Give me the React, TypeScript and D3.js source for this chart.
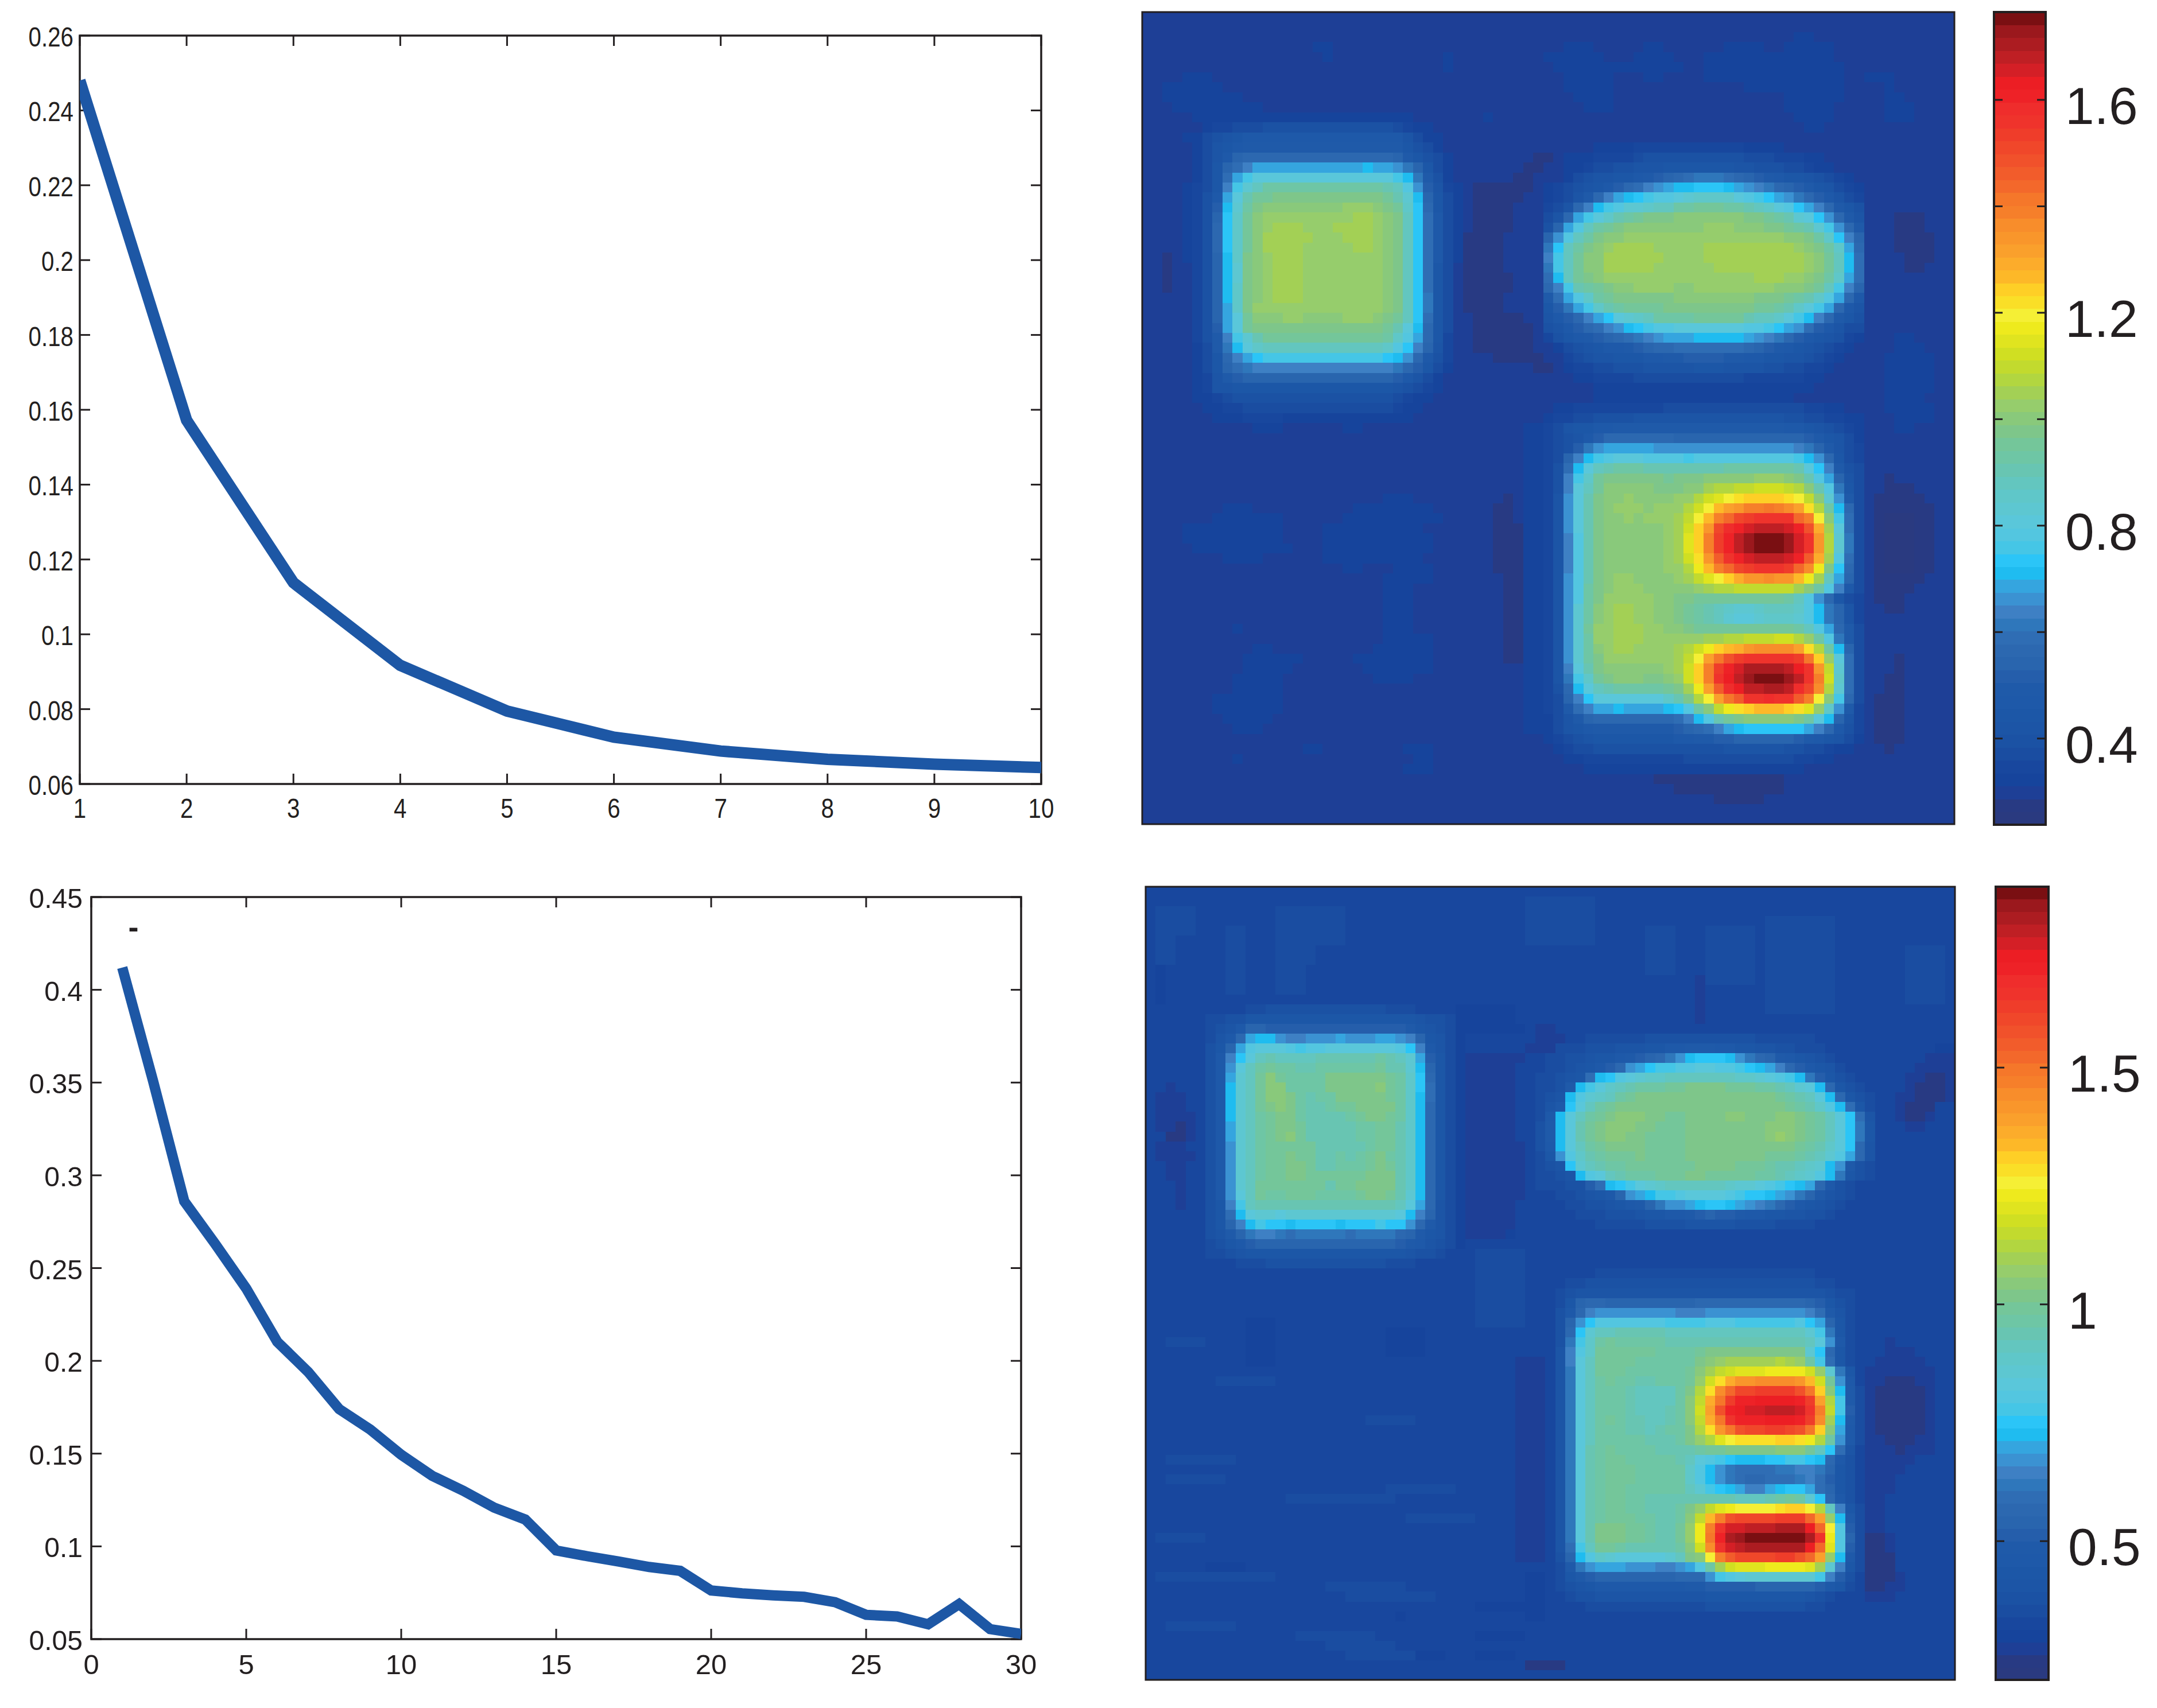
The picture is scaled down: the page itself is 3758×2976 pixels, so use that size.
import React from "react";
import { scaleLinear, scaleBand, scaleOrdinal, line, range } from "d3";

type Block = { col: number; row: number; rows: string[] };

// line charts
const topLineX = [1, 2, 3, 4, 5, 6, 7, 8, 9, 10];
const topLineY = [0.248, 0.1572, 0.1138, 0.0917, 0.0795, 0.0725, 0.0688, 0.0666, 0.0653, 0.0644];
const topXTicks = [1, 2, 3, 4, 5, 6, 7, 8, 9, 10];
const topYTicks = [0.06, 0.08, 0.1, 0.12, 0.14, 0.16, 0.18, 0.2, 0.22, 0.24, 0.26];

const bottomLineX = range(1, 31);
const bottomLineY = [
  0.412, 0.3505, 0.286, 0.263, 0.239, 0.2103, 0.194, 0.174, 0.163, 0.1494,
  0.138, 0.13, 0.1209, 0.1145, 0.0978, 0.0947, 0.0919, 0.0889, 0.0868, 0.0762,
  0.0747, 0.0736, 0.0728, 0.0699, 0.0631, 0.0622, 0.058, 0.0689, 0.0554, 0.0528,
];
const bottomXTicks = [0, 5, 10, 15, 20, 25, 30];
const bottomYTicks = [0.05, 0.1, 0.15, 0.2, 0.25, 0.3, 0.35, 0.4, 0.45];
const strayMark = { x: 1.36, y: 0.4335 };

// colormap, one letter per level, low to high
const levelChars = "0123456789abcdefghijklmnopqrstuvwxyzABCDEFGHIJKLMNOPQRSTUVWXYZ+";
const palette = [
  "#2a3a80", "#283a83", "#1e3f96", "#16449c", "#18479e", "#1a4da1", "#1b52a4", "#1c55a6", "#1c57a7", "#1e59a9",
  "#1f5aa9", "#255eab", "#2965ae", "#2c68b0", "#2f6db4", "#2f77bb", "#3e80c4", "#3b92d2", "#35a5df", "#1fbcf0",
  "#2bc5f7", "#45c6e6", "#53c6e0", "#5ac7da", "#5dc7d1", "#5fc7c9", "#63c6bf", "#68c5b2", "#6ec6a5", "#74c69a",
  "#7ec68a", "#89c97b", "#96cd6c", "#a3d055", "#b2d640", "#c2da2e", "#d0df22", "#e0e41f", "#eeea1d", "#f5ef35",
  "#fadf27", "#fecf26", "#fdb828", "#fcac2b", "#faa02c", "#f9962b", "#f88d2b", "#f67f2a", "#f5772a", "#f3682b",
  "#f25c2b", "#f1512b", "#f0472a", "#ef3d2a", "#ef332c", "#ef2d2c", "#ee2227", "#ec1e24", "#d41f26", "#bf1f24",
  "#ac1c21", "#9b181d", "#7a0f12",
];
const gridSize = 81;

const topBackground = "2";
const bottomBackground = "4";

// top heat map, read cell by cell
const topSquare: Block = { col: 3, row: 10, rows: [
  "22222 2333 333333333333 3332 2222",
  "22234 4555 666666666666 6543 3222",
  "23356 7899 999999999999 9975 3322",
  "22357 89aa aaaaaaaaaaaa aa86 5322",
  "22357 9cdd dddddddddddd dca8 6532",
  "22358 cegi iiiiiiiiiiji ihfc 8532",
  "22358 eiln nnnnnnnnnnnn nljf a632",
  "23458 gloq ssssssssssss rqmh b743",
  "23469 inrt tuuuuuuuuuuu troj c853",
  "2346b josu vvvvvvvvwwwv utpk d853",
  "2346c kptv wwwwwwwwwxxw vuqk e953",
  "2346d kptv wxxxwwwxxxxw vuqk e953",
  "2346d kptv xxxxxwwwxxxw vuqk e953",
  "2346d kptv xxxxwwwwwxxw vuqk e953",
  "2346c jpuv wxxxwwwwwwww vuqk e953",
  "2246c jouv wxxxwwwwwwww vuqk e852",
  "2246c jouv wxxxwwwwwwww vuqk e852",
  "2246c jpuv wxxxwwwwwwww vuqk e852",
  "2246c jpuv wxxxwwwwwwww vuqk f852",
  "2246c ipuw wwwwwwwwwwww vuqk f852",
  "2246c intv vvwwvvvvwwwv utqk e852",
  "2246b intu uuuuuuuuuuuu trnj d852",
  "2246a glor tttttttttttt spmi d842",
  "2235a fjnp qqqqqqqqqqqq pmkg c742",
  "22358 dgik llllllllllll kjhd 9642",
  "22358 cefg gggggggggggg gfdb 8532",
  "22347 abcc cccccccccccc cb97 5322",
  "22347 7888 888888888888 8765 4322",
  "22334 5666 666666666666 6543 3222",
  "22233 4455 555555555555 5433 2222",
  "22223 3344 443333333333 3332 2222",
  "22222 2223 332222223322 2222 2222",
] };

const topEllipse: Block = { col: 40, row: 13, rows: [
  "22222333 3444444444443333 22222222",
  "22333444 4566666666665554 44332222",
  "22334556 6777888888877666 55433222",
  "22356778 89abcdefffedcba9 88765432",
  "3456789b deghijjkkkjihgfd cba87543",
  "3457adgi jklmmnoppppnmlki hfdb9754",
  "457dgjlm oopqqsstttssrqpn mkigda86",
  "57dilnpr stuuuvvvvvvvuuts ronkhda7",
  "6cimqstu vvvvvvvvwwwvvvuu tsrolhda",
  "chmqsuvv wwwwwwwwwwwwwwww vvuspkgc",
  "fkqsuvwx xxxwwwwwxxxxxxxx xwvuspid",
  "glqtvvxx xxxxwwwwxxxxxxxx xxwvtqje",
  "flqtvvxx xxxwwwwwwxxxxxxx xxwvtqje",
  "ejqtuvww wwwwwwwwwwwwwxxx wwvuspie",
  "dglrstuv vwwwwvvwwwwwwwwv vvutqlgc",
  "aeimpstu uuuuuvvvvvvvvuuu tsrpmid9",
  "8bfilprs ttttuuuuuuuuutts rpnlid97",
  "79bdgikn opqsssstttttrqqp nljgda86",
  "679bdegh jklmmnnnnnnnmmlk iheb9755",
  "4689abcd efghiiijjjjjihgf db987643",
  "23567899 abcddeeeeeeedcba 98765432",
  "22456778 8899aabbbbaa9988 77654322",
  "22344556 6677777888777766 55443222",
  "22233444 4555555555554444 44332222",
  "22222333 3333333333333333 33322222",
] };

const topBlock: Block = { col: 38, row: 38, rows: [
  "22222223 33333333 33333333 33322222 22",
  "22233444 44444455 55555555 55554433 22",
  "22344556 66677777 77777777 77665544 33",
  "33457889 9aaaaaaa aaaaaaaa aa998765 43",
  "3345679b dddddddc cccccccc ccccba87 53",
  "33456bfh iiiiihhh hhhhhhhh hhhgfca7 54",
  "3345cgjl mnnnmmmm lmmmmmmm mmmljhd8 54",
  "3346ejnq rsssrrrr rrrrssss sssrnkga 65",
  "3346glpt uuuuuutu uuvvvvvw wwvurmic 75",
  "3346gnqt vvvvvuuu vvxyyzzA AAzyvrmf 85",
  "3347hnru vvwvvvvw wyABDEFF FFEDzvoh a5",
  "3347hnru vwwwvwww yADGIJLL MLKIEysj d5",
  "3347hnru vvwvwwwx zDGLNQRS SSSNLDvl e5",
  "3347hnru vvvvvvwx AFJQTUWX XXWUPHxn e5",
  "3347gmru vvvvvvwx BFLRUXZ+ ++ZWSJyo f5",
  "3347gmru vvvvvvwx BFLRUXZ+ ++ZWSJyo f5",
  "3347gmru vvvvvvwx AEJOSUWX XXWUOHxm e5",
  "3347gmru vvvvvvww yCGLNQRS SSRNKCuk d5",
  "3347hmru vwwvvvvw xzBDFHJJ KJJGCxqi c5",
  "3347hmsu vwwwvvvv vwxyyzzz zzzxvsmg 95",
  "3347hmsu wwwwwvvu uttttttt ttsqmhd8 54",
  "3347hosv wxxwwvvu tsrqpoop qqqpmjfc 74",
  "3347hosv wxxwwvvu tsrqonno pppomjfc 74",
  "3347hotw wxxxwwvv uttttttt tttsqmid a5",
  "3347hosw wxxxwwww wwxxyyzz zAAywsmf a5",
  "3347hosv wxxwwwwx yACFGHJK KKKIEysj c5",
  "3347hosu wwwwwwwx zDIMPRSS SSSRMFwn e5",
  "3347gnru vvvvvvwx AFLRUWYY YYXVSJzo e5",
  "3347flpt uvvvuuvw AFLSVXZ+ ++ZXSLAp e5",
  "3346djnq rssssstu xCIOTVXX YYXTQKyo e5",
  "3345cgkn nnnnnnpr uyDIMOSS TSSOLDvl d5",
  "3345aegi ijiiiijk msvzCEFG GGFEBwph a4",
  "33357acd ddddddde gjmrtuvv vvvusnjc 74",
  "3335789a aaaaaaab cdegijkk kkkkigd9 64",
  "22345678 88888889 9aabbccc cccba987 53",
  "22234556 66666666 66667777 77665543 32",
  "22223344 44444444 55555555 55544332 22",
  "22222233 33333333 33333333 33332222 22",
] };

// bits of the top background, painted only where nothing else is
const topPatches: Block[] = [
  { col: 32, row: 14, rows: [".......11", "......11", ".....11", ".111111", ".11111", ".1111", ".1111", ".1111", "1111", "1111", "1111", "1111", "11111", "11111", "1111", "1111", ".11111", ".111111", ".111111", ".111111", "...11111", ".......11"] },
  { col: 75, row: 20, rows: ["111", "111", "1111", "1111", ".111", ".11"] },
  { col: 2, row: 24, rows: ["1", "1", "1", "1"] },
  { col: 73, row: 46, rows: [".1", ".111", "11111", "111111", "100011", "100011", "100011", "100011", "100011", "100011", "11111", "1111", "111", ".11"] },
  { col: 73, row: 64, rows: ["..1", "..1", ".11", ".11", "111", "111", "111", "111", "111", ".1"] },
  { col: 35, row: 48, rows: [".1", "11", "11", "111", "111", "111", "111", "111", ".11", ".11", ".11", ".11", ".11", ".11", ".11", ".11", ".11"] },
  { col: 51, row: 75, rows: [".111111111", "1111111111111", "..11111111111", "......11111"] },
  { col: 2, row: 6, rows: ["..333", "333333", "33333333", ".333333333", "...333333333"] },
  { col: 40, row: 3, rows: ["..333.....33", "333333...3333", ".3333333333333", "..33333...33", "..33333", "...3333", "....333"] },
  { col: 56, row: 2, rows: [".........33", "..3333..33333", "3333333333333", "33333333333333", "33333333333333", "....3333333333", "........333333", "........33333", ".........3333", "..........33"] },
  { col: 72, row: 6, rows: ["333", "..3", "..33", "..333", "..333"] },
  { col: 4, row: 49, rows: ["....333", "...3333333", "3333333333", "3333333333", ".3333333333", "....3333"] },
  { col: 18, row: 48, rows: ["......333", "...33333333", "..3333333333", "3333333333", "33333333333", "33333333333", "3333333333", "..33...3333", "......33333", "......333", "......333", "......333", "......333", "......333"] },
  { col: 7, row: 63, rows: ["....33", "...333333", "...33333", "..33333", "..33333", "3333333", "3333333", ".33333", "..333"] },
  { col: 21, row: 62, rows: ["...33333", "..333333", "33333333", ".3333333", "..3333"] },
  { col: 74, row: 32, rows: [".33", ".333", "33333", "33333", "33333", "33333", "3333", "33333", ".3333", ".33"] },
  { col: 25, row: 73, rows: [".333", "..33", ".333"] },
  { col: 17, row: 3, rows: ["33", ".3"] },
  { col: 30, row: 4, rows: ["3", "3"] },
  { col: 34, row: 10, rows: ["3"] },
  { col: 9, row: 61, rows: ["3"] },
  { col: 16, row: 73, rows: ["33"] },
  { col: 9, row: 74, rows: ["3"] },
];

// bottom heat map
const bottomSquare: Block = { col: 6, row: 12, rows: [
  "4444 55666 66666 66665 55444 44",
  "5566 88888 88888 88888 88766 54",
  "5679 ccbbb bbbbb bbbbb ba876 54",
  "579d ijjhg ghhhi hhhii hgc87 54",
  "68ci mnnnm lmmnn nnnnn mkg97 54",
  "69gk nqrqq qqrrr rrrsr qoib8 54",
  "69hn qstss rrsss ssstr rojc8 54",
  "69io qtvts sssuu uuuut spkd8 54",
  "69jo qtvvs sssuu uuuvt spke8 54",
  "69jo qtvvu srssu uuuut spje8 54",
  "69jo qtuvu srrst tuuuu spjd8 54",
  "69jo qstuu srrrr stuut spjd8 54",
  "69io qstuu trrrr rsstt rpjd8 54",
  "69io qstuv trrrr rsstt rpjd8 54",
  "69ho qsttt ttrrr rrstt rpjd8 54",
  "69ho qsttu ttrrs rstus rpjd8 54",
  "69ho qsttu utrrs sstut rpjd8 54",
  "69ho qsttu utttt ttuuu rpjd8 54",
  "69ho qtttt tttrt tuuuu rpjd8 54",
  "69hn qtsst ttsss stuut rojd8 54",
  "68gl qrrrr rrrrr rrrrr qnid7 53",
  "68ej noono ooooo ooooo njgc7 53",
  "68cg jlkkj kkkkj kkklk khda7 53",
  "67ac fggfe fffff effff dca87 53",
  "5689 bcccc ccccc ccccc ba976 53",
  "5567 88888 88888 88888 87665 44",
  "4445 55666 66666 66665 55444 44",
] };

const bottomEllipse: Block = { col: 38, row: 15, rows: [
  "444444 555555 666666 66666 555555 4444444",
  "444555 666777 8899aa a9988 776655 5444444",
  "445566 7889ab cdfhjk kkjhf dca987 6544444",
  "445567 89bdhi kllmmn nmmlk jigdb9 8754444",
  "455678 ejkmno ppqqqq qqqpp onmljf b865444",
  "4556aj lnpqrs ssttuu uuttt ssrqon jd86544",
  "4567jm opqstu uuuuuu uuuuu uutsrq njd8654",
  "4579kn qstuuu uuuuuu uuuuu uuutsr pmje854",
  "459jnq stuvvv uuttuu uuvvu uuvvut sqnke74",
  "46ajnr tuvvvu utttuu uuuuu uvvvut sqnkf84",
  "46ajnr tuvvuu ttttuu uuuuu uvwvut sqnkf84",
  "469jnq stuuuu ttttuu uuuuu uuuuts rpnkd74",
  "458hmp rstttu ttttuu uuuuu utttsr qomid74",
  "4567ko qrsstt tttttu uuutt tsrrqp ojh9654",
  "45567j mnqrss stttuu ttttts srqpom jf86544",
  "455566 bejkln opqqqq qqpoo nmlkji d965444",
  "444556 789chi jllmnn nnmlk kjihfc a765444",
  "444455 66789a cfhhij kkjih gfdb98 7654444",
  "444445 556667 8899ab cbba9 988776 6544444",
  "444444 455555 666677 77766 665555 4444444",
] };

const bottomBlock: Block = { col: 38, row: 39, rows: [
  "44444445 55555555 55555555 55555444 44",
  "44445566 66666666 66666666 66666554 44",
  "44456777 77777777 77777777 77777765 54",
  "44458cdd cccccccc cddddddd ddddcb86 54",
  "44469dgh hhhhhhhg gghhhhhh hhhhgea7 54",
  "4446chkm mmmmmmll llmmmlll lllmkic8 54",
  "4446dkoq qrrrrrqq qqqqqqqq qqqqolf8 54",
  "4446flps tsssssrr rrrrrrrr rrrrqnh9 54",
  "4447gmpt tttttsss stuuuuuu uuuuokd8 54",
  "4447gnqt tttsssss suvwxxxx xyxwsle8 54",
  "4447fnqt ttssssss tvxzABBB CCCCAwof 84",
  "4447fnqs tssrrsss twAEHJJK KKKJGAth 94",
  "4447fnqs ssrqqqqs uyEKNQQR RRRPMFvj a5",
  "4447fnqs ssrqqqqs vzHMRUUV VVVURIyl a5",
  "4447fnqs ssrqqqrs vAIPUVWW XXXWSLzl b5",
  "4447fnqs tsrrqqrs vzHMSUUU VVVURKxj a5",
  "4447fnqs ssrrqrss uyEJMPQQ RRQPMFvi 95",
  "4447fnqs ssssrrrs uwyBDEEE EFFECysh 95",
  "4447fnrs tssssrrr rsttuuuu uvvvtqke 74",
  "4447fnrs ttsssssr qnmlkjjj kkllkjd9 64",
  "4447fnrs tttsssss pmjhfeee effggfc8 64",
  "4447fnrs tttsssss pmjhfedd eeefgeb8 64",
  "4447fnrs ttssssss qolkjigg ijkkiec8 64",
  "4447fnrs ttssrrrr rrrrrqqq rstsokd9 64",
  "4447fnrs ttssrrrs uwzBCDDD DEFFDyqg 85",
  "4447fnrs tttssrrs vzGLPQQQ QRRRNIwj a5",
  "4447fnru uuttsrrt wCLSWWXX XYYYVNDm b5",
  "4447fnru uuttsrrt wCMUYZ++ ++++YSCm c5",
  "4447elqt tsrrrrrs vAKSWXYY YYYYVNBm b5",
  "4446cjmp onnnnnoq uvDLOQQQ QRRPNIwj 95",
  "4445afhi iihhhggh imsxABBB CCCCBxog 85",
  "44458abc cccccccd ddhlmnoo ooooolgb 64",
  "44456789 99999999 aabbbbbc cccccb98 54",
  "44445667 77777777 77888888 88887654 44",
  "44444455 55555555 55666666 66665544 44",
] };

const bottomPatches: Block[] = [
  { col: 32, row: 14, rows: [".......22", ".......222", "......2222", "222222..22", "22222", "22222", "22222", "22222", "22222", "22222", "22222", "22222", "222222", "222222", "222222", "222222", "222222", "222222", "22222", "22222", "22222", "2222"] },
  { col: 1, row: 20, rows: [".2", "222", "222", "2222", "2212", ".112", "222", "2222", ".22", ".22", "..2", "..2", "..2"] },
  { col: 75, row: 16, rows: ["....33", "...222", "..2222", ".22112", ".21112", "221112", "2111", "2112", ".22"] },
  { col: 72, row: 46, rows: ["..2", "..222", ".22222", "2222222", "2211122", "2111112", "2111112", "2111112", "2111112", "2111112", "2211122", "2221222", "22222", "2222", "222", "222", "22", "22", "22", "22", "112", "112", "111", "111", "1112", "1122", "222"] },
  { col: 37, row: 48, rows: ["222", "222", "222", "222", "222", "222", "222", "222", "222", "222", "222", "222", "222", "222", "222", "222", "222", "222", "222", "222", "222"] },
  { col: 55, row: 9, rows: ["2", "2", "2", "2", "2"] },
  { col: 1, row: 8, rows: ["3", "3", "3", "3"] },
  { col: 31, row: 12, rows: ["333333", "333333", "3333333", "3", "3", "3", "3", "3", "3", "3", "3", "3", "3", "3", "3", "3", "3", "3", "3", "3", "3", "3", "3", "333333"] },
  { col: 37, row: 79, rows: [".1111"] },
  { col: 27, row: 78, rows: ["333"] },
  { col: 25, row: 74, rows: ["3"] },
  { col: 33, row: 73, rows: ["33333", "", "", "33333", "", "3333"] },
  { col: 1, row: 2, rows: ["5555", "5555", "5555", "55", "55", "55"] },
  { col: 13, row: 2, rows: ["5555555", "5555555", "5555555", "5555555", "5555", "5555", "555", "555", "555"] },
  { col: 8, row: 4, rows: ["55", "55", "55", "55", "55", "55", "55"] },
  { col: 38, row: 1, rows: ["5555555", "5555555", "5555555", "5555555", "5555555"] },
  { col: 50, row: 4, rows: ["555", "555", "555", "555", "555"] },
  { col: 56, row: 4, rows: ["55555", "55555", "55555", "55555", "55555", "55555"] },
  { col: 62, row: 3, rows: ["5555555", "5555555", "5555555", "5555555", "5555555", "5555555", "5555555", "5555555", "5555555", "5555555"] },
  { col: 76, row: 6, rows: ["5555", "5555", "5555", "5555", "5555", "5555"] },
  { col: 33, row: 37, rows: ["55555", "55555", "55555", "55555", "55555", "55555", "55555", "55555"] },
  { col: 2, row: 46, rows: ["5555"] },
  { col: 7, row: 50, rows: ["555555"] },
  { col: 22, row: 54, rows: ["55555"] },
  { col: 2, row: 58, rows: ["5555555", "", "555555"] },
  { col: 24, row: 61, rows: ["5555555"] },
  { col: 14, row: 62, rows: ["55555555555"] },
  { col: 26, row: 64, rows: ["5555555"] },
  { col: 1, row: 66, rows: ["55555"] },
  { col: 1, row: 70, rows: ["555555555555"] },
  { col: 18, row: 71, rows: ["55555555", "..555555555"] },
  { col: 2, row: 75, rows: ["5555555"] },
  { col: 15, row: 76, rows: ["55555555", "...5555555", ".....55555555"] },
  { col: 10, row: 44, rows: ["333", "333", "333", "333", "333"] },
  { col: 24, row: 45, rows: ["3333", "3333", "3333"] },
  { col: 6, row: 69, rows: ["3333"] },
  { col: 38, row: 70, rows: ["33", "33", "33", "33", "33"] },
];

const ink = "#231f20";
const lineColor = "#1d57a5";
const fontFamily = "'Liberation Sans', Arial, sans-serif";

const clean = (s: string) => s.replace(/\s/g, "");

// fills the grid from the hand read blocks, patches only touch empty background
const buildGrid = (background: string, blocks: Block[], patches: Block[]) => {
  const grid = range(gridSize).map(() => range(gridSize).map(() => background));
  blocks.forEach((b) =>
    b.rows.forEach((r, i) =>
      clean(r).split("").forEach((c, j) => {
        if (c !== "." && b.row + i < gridSize && b.col + j < gridSize) grid[b.row + i][b.col + j] = c;
      })
    )
  );
  patches.forEach((b) =>
    b.rows.forEach((r, i) =>
      clean(r).split("").forEach((c, j) => {
        if (c !== "." && b.row + i < gridSize && b.col + j < gridSize && grid[b.row + i][b.col + j] === background)
          grid[b.row + i][b.col + j] = c;
      })
    )
  );
  return grid;
};

const colorOf = scaleOrdinal<string, string>(levelChars.split(""), palette);

const HeatMap = ({ grid, left, right, top, bottom }: any) => {
  const x = scaleBand<number>(range(gridSize), [left, right]);
  const y = scaleBand<number>(range(gridSize), [top, bottom]);
  return (
    <g>
      {grid.map((row: string[], i: number) =>
        row.map((c, j) => (
          <rect
            key={`${i}-${j}`}
            x={x(j)}
            y={y(i)}
            width={x.bandwidth() + 0.5}
            height={y.bandwidth() + 0.5}
            fill={colorOf(c)}
            shapeRendering="crispEdges"
          />
        ))
      )}
      <rect x={left} y={top} width={right - left} height={bottom - top} fill="none" stroke={ink} strokeWidth={3} />
    </g>
  );
};

const ColorBar = ({ left, right, top, bottom, domain, ticks, labels }: any) => {
  const y = scaleLinear().domain(domain).range([bottom, top]);
  const band = scaleBand<number>(range(palette.length), [bottom, top]);
  return (
    <g>
      {palette.map((c, i) => (
        <rect key={i} x={left} y={band(i)} width={right - left} height={band.bandwidth() + 0.5} fill={c} shapeRendering="crispEdges" />
      ))}
      {ticks.map((t: number) => (
        <g key={t} stroke={ink} strokeWidth={3}>
          <line x1={left} x2={left + 15} y1={y(t)} y2={y(t)} />
          <line x1={right} x2={right - 15} y1={y(t)} y2={y(t)} />
        </g>
      ))}
      <rect x={left} y={top} width={right - left} height={bottom - top} fill="none" stroke={ink} strokeWidth={4} />
      {labels.map((l: number) => (
        <text
          key={l}
          transform={`translate(${right + 34},${y(l) + 42}) scale(1,1)`}
          fontSize={91}
          fontFamily={fontFamily}
          fill={ink}
        >
          {l}
        </text>
      ))}
    </g>
  );
};

const LineChart = (props: any) => {
  const { id, left, right, top, bottom, xDomain, yDomain, xs, ys, xTicks, yTicks, strokeWidth, fontSize, squeeze, xLabelY, xSqueeze, yGap, children } = props;
  const x = scaleLinear().domain(xDomain).range([left, right]);
  const y = scaleLinear().domain(yDomain).range([bottom, top]);
  const path = line<number>()
    .x((d) => x(d))
    .y((_, i) => y(ys[i]));
  return (
    <g>
      <clipPath id={id}>
        <rect x={left} y={top} width={right - left} height={bottom - top} />
      </clipPath>
      <rect x={left} y={top} width={right - left} height={bottom - top} fill="none" stroke={ink} strokeWidth={3.5} />
      {xTicks.map((t: number) => (
        <g key={t}>
          <line x1={x(t)} x2={x(t)} y1={bottom} y2={bottom - 18} stroke={ink} strokeWidth={3} />
          <line x1={x(t)} x2={x(t)} y1={top} y2={top + 18} stroke={ink} strokeWidth={3} />
          <text
            transform={`translate(${x(t)},${xLabelY}) scale(${xSqueeze},1)`}
            textAnchor="middle"
            fontSize={fontSize}
            fontFamily={fontFamily}
            fill={ink}
          >
            {t}
          </text>
        </g>
      ))}
      {yTicks.map((t: number) => (
        <g key={t}>
          <line x1={left} x2={left + 18} y1={y(t)} y2={y(t)} stroke={ink} strokeWidth={3} />
          <line x1={right} x2={right - 18} y1={y(t)} y2={y(t)} stroke={ink} strokeWidth={3} />
          <text
            transform={`translate(${left - yGap},${y(t) + 19}) scale(${squeeze},1)`}
            textAnchor="end"
            fontSize={fontSize}
            fontFamily={fontFamily}
            fill={ink}
          >
            {t}
          </text>
        </g>
      ))}
      <path d={path(xs) as string} fill="none" stroke={lineColor} strokeWidth={strokeWidth} strokeLinejoin="miter" clipPath={`url(#${id})`} />
      {children && children(x, y)}
    </g>
  );
};

export default function App() {
  const topGrid = buildGrid(topBackground, [topSquare, topEllipse, topBlock], topPatches);
  const bottomGrid = buildGrid(bottomBackground, [bottomSquare, bottomEllipse, bottomBlock], bottomPatches);

  return (
    <svg
      width={3758}
      height={2976}
      viewBox="0 0 3758 2976"
      style={{ position: "absolute", left: 0, top: 0, display: "block", background: "#fff" }}
    >
      <LineChart
        id="clip-top"
        left={139}
        right={1814}
        top={62}
        bottom={1366}
        xDomain={[1, 10]}
        yDomain={[0.06, 0.26]}
        xs={topLineX}
        ys={topLineY}
        xTicks={topXTicks}
        yTicks={topYTicks}
        strokeWidth={20}
        fontSize={48}
        squeeze={0.84}
        xSqueeze={0.84}
        xLabelY={1425}
        yGap={11}
      />
      <LineChart
        id="clip-bottom"
        left={159}
        right={1779}
        top={1563}
        bottom={2856}
        xDomain={[0, 30]}
        yDomain={[0.05, 0.45]}
        xs={bottomLineX}
        ys={bottomLineY}
        xTicks={bottomXTicks}
        yTicks={bottomYTicks}
        strokeWidth={18}
        fontSize={49}
        squeeze={0.98}
        xSqueeze={1}
        xLabelY={2917}
        yGap={15}
      >
        {(x: any, y: any) => (
          <text x={x(strayMark.x)} y={y(strayMark.y) + 18} textAnchor="middle" fontSize={54} fontWeight="bold" fontFamily={fontFamily} fill={ink}>
            -
          </text>
        )}
      </LineChart>

      <HeatMap grid={topGrid} left={1990} right={3405} top={21} bottom={1436} />
      <ColorBar left={3474} right={3564} top={21} bottom={1437} domain={[0.238, 1.765]} ticks={[0.4, 0.6, 0.8, 1, 1.2, 1.4, 1.6]} labels={[0.4, 0.8, 1.2, 1.6]} />

      <HeatMap grid={bottomGrid} left={1996} right={3406} top={1545} bottom={2927} />
      <ColorBar left={3477} right={3569} top={1545} bottom={2927} domain={[0.207, 1.882]} ticks={[0.5, 1, 1.5]} labels={[0.5, 1, 1.5]} />
    </svg>
  );
}
